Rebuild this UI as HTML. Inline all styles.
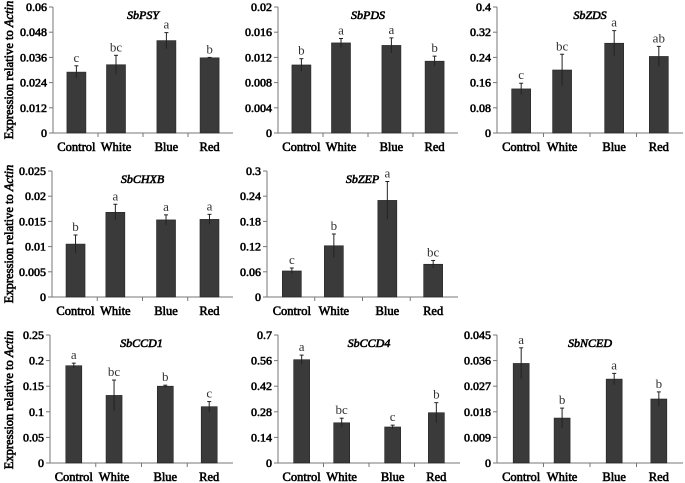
<!DOCTYPE html>
<html><head><meta charset="utf-8"><style>
html,body{margin:0;padding:0;background:#fff;}
svg{display:block;}
svg text{font-family:"Liberation Serif",serif;}
.b{stroke:#000;stroke-width:0.6px;}
</style></head><body>
<svg id="fig" width="685" height="483" viewBox="0 0 685 483" xmlns="http://www.w3.org/2000/svg" font-family="Liberation Serif, serif">
<text class="b" transform="translate(13,70) rotate(-90)" text-anchor="middle" font-size="12.5">Expression relative to <tspan font-style="italic">Actin</tspan></text>
<text class="b" transform="translate(13,234) rotate(-90)" text-anchor="middle" font-size="12.5">Expression relative to <tspan font-style="italic">Actin</tspan></text>
<text class="b" transform="translate(13,400) rotate(-90)" text-anchor="middle" font-size="12.5">Expression relative to <tspan font-style="italic">Actin</tspan></text>
</svg>
<script>
const categories = ["Control","White","Blue","Red"];
const genes = ["SbPSY","SbPDS","SbZDS","SbCHXB","SbZEP","SbCCD1","SbCCD4","SbNCED"];
const psyVals=[0.029,0.0325,0.044,0.0358], psyErr=[0.003,0.0045,0.0038,0.0002], psyLet=["c","bc","a","b"], psyTicks=["0","0.012","0.024","0.036","0.048","0.06"];
const pdsVals=[0.0108,0.0143,0.0139,0.0114], pdsErr=[0.001,0.0007,0.0012,0.0008], pdsLet=["b","a","a","b"], pdsTicks=["0","0.004","0.008","0.012","0.016","0.02"];
const zdsVals=[0.14,0.2,0.285,0.243], zdsErr=[0.018,0.05,0.04,0.032], zdsLet=["c","bc","a","ab"], zdsTicks=["0","0.08","0.16","0.24","0.32","0.4"];
const chxbVals=[0.0105,0.0168,0.0153,0.0154], chxbErr=[0.0018,0.0016,0.001,0.001], chxbLet=["b","a","a","a"], chxbTicks=["0","0.005","0.01","0.015","0.02","0.025"];
const zepVals=[0.062,0.122,0.23,0.078], zepErr=[0.007,0.028,0.045,0.009], zepLet=["c","b","a","bc"], zepTicks=["0","0.06","0.12","0.18","0.24","0.3"];
const ccd1Vals=[0.19,0.132,0.15,0.11], ccd1Err=[0.005,0.03,0.002,0.01], ccd1Let=["a","bc","b","c"], ccd1Ticks=["0","0.05","0.1","0.15","0.2","0.25"];
const ccd4Vals=[0.565,0.22,0.197,0.275], ccd4Err=[0.025,0.025,0.01,0.055], ccd4Let=["a","bc","c","b"], ccd4Ticks=["0","0.14","0.28","0.42","0.56","0.7"];
const ncedVals=[0.035,0.0158,0.0295,0.0225], ncedErr=[0.0055,0.0035,0.002,0.0025], ncedLet=["a","b","a","b"], ncedTicks=["0","0.009","0.018","0.027","0.036","0.045"];

const NS="http://www.w3.org/2000/svg";
const svg=document.getElementById('fig');
const FF='Liberation Serif, serif';
function mk(tag,attrs,parent){const e=document.createElementNS(NS,tag);for(const k in attrs)e.setAttribute(k,attrs[k]);(parent||svg).appendChild(e);return e;}
const fr=[0.13,0.35,0.63,0.87];
function panel(name,vals,errs,lets,ticks,x0,x1,yTop,yZero,bw){
  const g=mk('g',{});
  
  
  const max=parseFloat(ticks[ticks.length-1]);
  const ys=v=>yZero-(v/max)*(yZero-yTop);
  const xs=i=>x0+fr[i]*(x1-x0);
  const ax=mk('line',{x1:x0,y1:yTop,x2:x0,y2:yZero,stroke:'#777','stroke-width':1},g);
  
  
  const bx=mk('line',{x1:x0,y1:yZero,x2:x1,y2:yZero,stroke:'#777','stroke-width':1},g);
  
  
  ticks.forEach(t=>{const y=ys(parseFloat(t));
    mk('line',{x1:x0-4,y1:y,x2:x0,y2:y,stroke:'#777'},g);
    const tx=mk('text',{class:'b',x:x0-6,y:y+4,'text-anchor':'end','font-size':12,'font-family':FF},g);tx.textContent=t;
    
    
  });
  for(let k=1;k<4;k++){const x=x0+k*(x1-x0)/4;mk('line',{x1:x,y1:yZero,x2:x,y2:yZero+4,stroke:'#777'},g);}
  const tt=mk('text',{class:'b',x:(x0+x1)/2,y:yTop+12,'text-anchor':'middle','font-size':12,'font-style':'italic','font-family':FF},g);tt.textContent=name;
  
  
  vals.forEach((v,i)=>{
    const cx=xs(i),y=ys(v);
    const r=mk('rect',{x:cx-bw/2,y:y,width:bw,height:yZero-y,fill:'#3a3a3a',stroke:'#222','stroke-width':0.6},g);
    
    
    const yh=ys(v+errs[i]),yl=ys(v-errs[i]);
    mk('line',{x1:cx,y1:yh,x2:cx,y2:yl,stroke:'#222','stroke-width':1},g);
    mk('line',{x1:cx-2,y1:yh,x2:cx+2,y2:yh,stroke:'#222','stroke-width':1},g);
    const l=mk('text',{x:cx,y:yh-4,'text-anchor':'middle','font-size':13,fill:'#333','font-family':FF},g);l.textContent=lets[i];
    
    
    const c=mk('text',{class:'b',x:cx,y:yZero+18,'text-anchor':'middle','font-size':12.5,'font-family':FF},g);c.textContent=categories[i];
    
    
  });
}
panel(genes[0],psyVals,psyErr,psyLet,psyTicks,53,233,7,133,19);
panel(genes[1],pdsVals,pdsErr,pdsLet,pdsTicks,278,458,7,133,19);
panel(genes[2],zdsVals,zdsErr,zdsLet,zdsTicks,497,683,7,133,19);
panel(genes[3],chxbVals,chxbErr,chxbLet,chxbTicks,52,233,171,297,19);
panel(genes[4],zepVals,zepErr,zepLet,zepTicks,267,458,171,297,19);
panel(genes[5],ccd1Vals,ccd1Err,ccd1Let,ccd1Ticks,50,233,335,463,16);
panel(genes[6],ccd4Vals,ccd4Err,ccd4Let,ccd4Ticks,278,460,335,463,16);
panel(genes[7],ncedVals,ncedErr,ncedLet,ncedTicks,497,683,335,463,16);
</script>
</body></html>
